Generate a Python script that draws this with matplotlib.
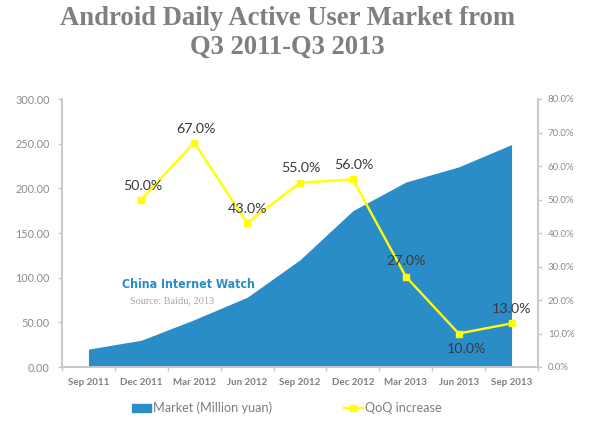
import matplotlib
matplotlib.use('Agg')
import matplotlib.pyplot as plt
from matplotlib.patches import Patch
from matplotlib.lines import Line2D
import numpy as np

# values
months = ['Sep 2011', 'Dec 2011', 'Mar 2012', 'Jun 2012', 'Sep 2012',
          'Dec 2012', 'Mar 2013', 'Jun 2013', 'Sep 2013']
market = [20, 30, 53, 78, 120, 175, 207, 224, 249]
qoq = [50, 67, 43, 55, 56, 27, 10, 13]
left_ticks = [0, 50, 100, 150, 200, 250, 300]
right_ticks = [0, 10, 20, 30, 40, 50, 60, 70, 80]

# label offsets in points, the labels are not all above the marker
label_offsets = [(1, 9.5), (1, 10), (0, 10), (1, 10.5), (1, 10.5), (0, 11), (6, -11), (0, 10.5)]

BLUE = '#2b8dc8'
YELLOW = '#ffff00'
GREY = '#8c8c8c'
AXIS = '#c8c8c8'

plt.rcParams['font.family'] = ['Lato', 'DejaVu Sans']

fig = plt.figure(figsize=(6, 4.32), dpi=100)
ax = fig.add_axes([62 / 600, 1 - 367 / 432, 476 / 600, 268 / 432])
ax2 = ax.twinx()

x = np.arange(len(months))
ax.fill_between(x, market, 0, color=BLUE, linewidth=0)
ax.set_xlim(-0.5, 8.5)
ax.set_ylim(0, 300)
ax.set_yticks(left_ticks)
ax.set_yticklabels(['%.2f' % v for v in left_ticks], fontsize=7.8, color=GREY)
ax.set_xticks(np.arange(len(months) + 1) - 0.5, minor=False)
ax.set_xticklabels([])
ax.set_xticks(x, minor=True)
ax.set_xticklabels(months, minor=True, fontsize=7, color='#7f7f7f', fontweight='bold')
ax.tick_params(axis='x', which='minor', length=0, pad=8)
ax.tick_params(axis='x', which='major', length=3, width=1, color=AXIS, direction='out')
ax.tick_params(axis='y', length=3, width=1, color=AXIS, pad=6)

x2 = np.arange(1, len(months))
ax2.plot(x2, qoq, color=YELLOW, linewidth=1.7, marker='s', markersize=5,
         markerfacecolor=YELLOW, markeredgecolor=YELLOW, zorder=3)
ax2.set_ylim(0, 80)
ax2.set_yticks(right_ticks)
ax2.set_yticklabels(['%.1f%%' % v for v in right_ticks], fontsize=7, color=GREY)
ax2.tick_params(axis='y', length=3, width=1, color=AXIS, pad=4)

for xi, v, off in zip(x2, qoq, label_offsets):
    ax2.annotate('%.1f%%' % v, (xi, v), xytext=off, textcoords='offset points',
                 ha='center', va='center', fontsize=10.3, color='#3a3a3a', zorder=4)

for a in (ax, ax2):
    a.spines['top'].set_visible(False)
    for side in ('left', 'right', 'bottom'):
        a.spines[side].set_color(AXIS)
        a.spines[side].set_linewidth(1.2)

# title
fig.text(287 / 600, 1 - 33 / 432, 'Android Daily Active User Market from\nQ3 2011-Q3 2013',
         ha='center', va='center', fontsize=19.2, fontweight='bold', color='#7f7f7f',
         family=['Liberation Serif'], linespacing=1.2)

# watermark
fig.text(188.5 / 600, 1 - 285 / 432, 'China Internet Watch', ha='center', va='center',
         fontsize=8.9, fontweight='bold', stretch='condensed', color=BLUE, family=['DejaVu Sans'])
fig.text(172 / 600, 1 - 301 / 432, 'Source: Baidu, 2013', ha='center', va='center',
         fontsize=7.4, color='#a6a6a6', family=['Liberation Serif'])

handles = [Patch(facecolor=BLUE, edgecolor=BLUE),
           Line2D([0], [0], color=YELLOW, linewidth=1.7, marker='s', markersize=5)]
fig.legend(handles, ['Market (Million yuan)', 'QoQ increase'], loc='center',
           bbox_to_anchor=(287 / 600, 1 - 408 / 432), ncol=2, frameon=False,
           fontsize=9.1, labelcolor='#7f7f7f', columnspacing=5.7, handlelength=1.45,
           handleheight=0.55, handletextpad=0.2)

fig.savefig('out.png', dpi=100)
